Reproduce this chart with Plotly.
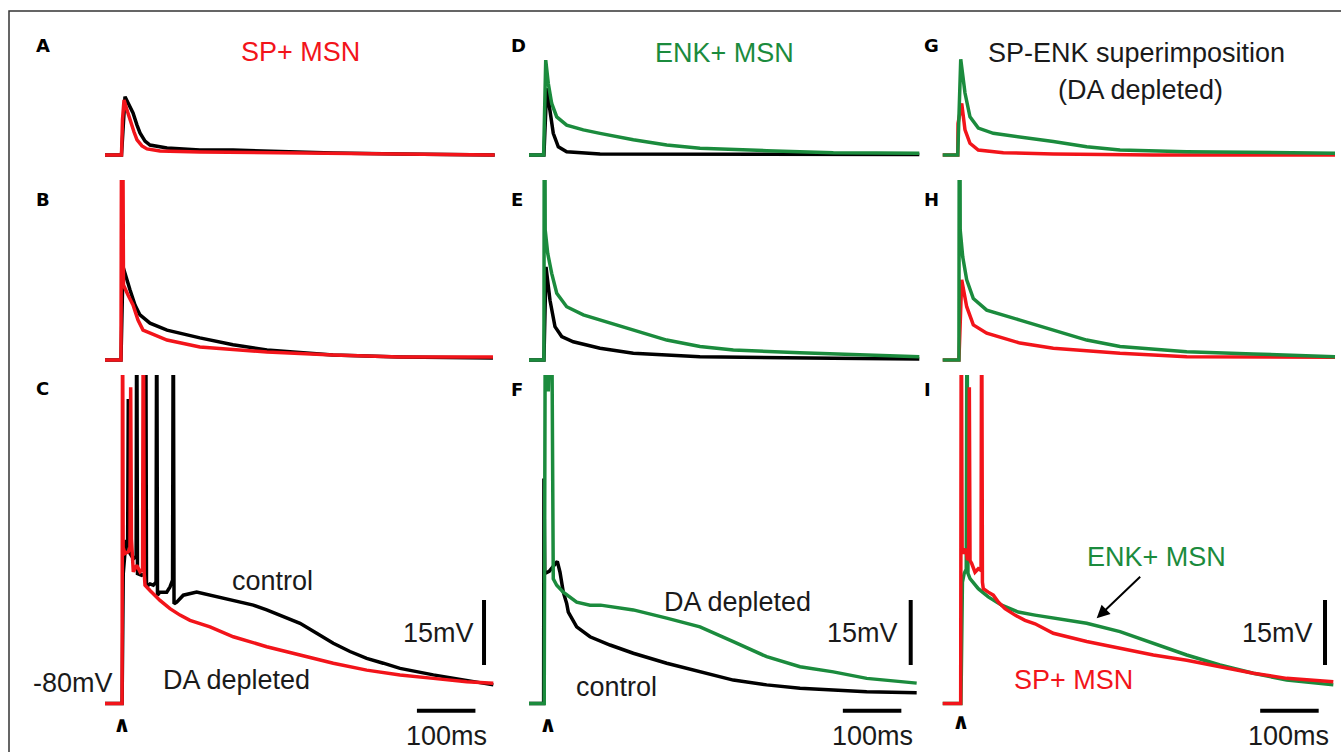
import plotly.graph_objects as go

W, H = 1341, 752

# ---------------- data ----------------
# time in ms from the stimulus, depolarisation in mV above the -80 mV resting level
# Panel A (SP+ MSN, subthreshold small)
A_ctrl_t = [-28.2, 0, 6.0, 11.1, 19.7, 26.5, 31.6, 40.2, 48.7, 77.8, 134, 190.6, 305, 361.5, 476, 638]
A_ctrl_v = [0, 0, 13.45, 12.0, 9.7, 6.9, 5.1, 3.2, 2.3, 1.6, 1.15, 1.15, 0.7, 0.46, 0.23, 0]
A_dep_t = [-28.2, 0, 1.7, 4.3, 9.4, 14.5, 21.4, 26.5, 35, 43.6, 65.8, 134, 305, 638]
A_dep_v = [0, 0, 8.1, 12.7, 10.4, 8.1, 5.3, 3.5, 2.1, 1.4, 0.9, 0.7, 0.46, 0]
# Panel B (SP+ MSN, larger)
B_ctrl_t = [-28.2, -0.9, 2.6, 7.7, 14.5, 23.1, 31.6, 48.7, 77.8, 134, 190.6, 248.7, 361.5, 476, 635]
B_ctrl_v = [0, 0, 21.5, 18.9, 16.2, 12.7, 10.4, 8.5, 6.9, 5.1, 3.5, 2.3, 1.15, 0.7, 0.46]
B_dep_t = [-28.2, -0.9, 0.8, 2.5, 3.4, 11.1, 19.7, 28.2, 36.8, 77.8, 134, 248.7, 361.5, 476, 635]
B_dep_v = [0, 0, 100, 18, 17.3, 15.0, 12.7, 9.2, 6.9, 4.6, 3.0, 1.85, 1.15, 0.7, 0.7]
# Panel C (SP+ MSN, suprathreshold)
C_ctrl_t = [-28.2, 1.0, 3.0, 7.7, 10.5, 11.6, 12.8, 20.2, 25.0, 26.0, 27.3, 34.5, 40.3, 41.4, 42.7,
            48.7, 54.4, 59.0, 60.2, 61.5, 65.8, 77.3, 82.9, 87.3, 88.5, 89.8, 94.4, 105.6, 128.5,
            151.3, 191.1, 225.3, 248.2, 276.6, 305.2, 333.7, 362, 390.6, 419.1, 447.5, 476.1, 533, 590, 635.6]
C_ctrl_v = [0, 0, 30, 37.7, 37, 70.3, 35, 33.4, 34, 100, 30, 29.6, 30, 100, 27,
            27.6, 27.3, 28, 100, 25, 25.7, 25.7, 26.9, 28.5, 100, 23, 23.4, 25.0, 25.7,
            25.0, 23.9, 22.7, 21.6, 20.0, 18.5, 16.2, 13.9, 12.0, 10.4, 9.3, 8.1, 6.6, 5.4, 4.3]
C_dep_t = [-28.2, 1.0, 1.8, 2.8, 6.0, 11.6, 14.5, 15.7, 17.0, 20.2, 26.0, 31.6, 36.0, 37.3, 38.8,
           40.2, 48.7, 57.3, 65.8, 82.9, 100, 117.1, 134.2, 151.3, 191.1, 248.2, 305.2, 362, 419.1,
           476.1, 533, 590, 635.6]
C_dep_v = [0, 0, 100, 36, 34.6, 35.0, 36, 73.0, 38, 30.4, 31.9, 30.4, 31, 100, 30,
           27.3, 26.1, 25.0, 23.8, 21.9, 20.4, 19.2, 18.4, 17.7, 15.4, 13.1, 11.2, 9.3, 7.7,
           6.6, 5.8, 5.0, 4.7]
# Panel D (ENK+ MSN)
D_ctrl_t = [-26.5, -1.0, 3.8, 9.4, 15.0, 23.6, 37.9, 94.9, 265.8, 640.7]
D_ctrl_v = [0, 0, 15.4, 9.6, 5.0, 1.9, 0.76, 0.23, 0.23, 0.1]
D_dep_t = [-26.5, -1.5, 2.1, 6.5, 12.3, 20.9, 37.9, 66.3, 94.9, 151.8, 208.9, 265.8, 379.8, 493.7, 640.7]
D_dep_v = [0, 0, 21.9, 16.5, 11.9, 8.8, 6.9, 5.8, 5.0, 3.5, 2.3, 1.55, 1.0, 0.53, 0.4]
# Panel E
E_ctrl_t = [-26.5, -1.0, 2.6, 9.4, 17.9, 29.4, 49.2, 94.9, 151.8, 265.8, 493.7, 640.7]
E_ctrl_v = [0, 0, 21.5, 13.8, 7.7, 5.4, 4.2, 2.7, 1.55, 0.76, 0.4, 0.23]
E_dep_t = [-26.5, -1.0, 0.0, 1.2, 5.5, 12.3, 20.9, 37.9, 66.3, 94.9, 151.8, 208.9, 265.8, 322.7, 436.8, 550.8, 640.7]
E_dep_v = [0, 0, 100, 30, 24.6, 20.0, 15.4, 12.3, 10.4, 9.2, 6.9, 4.6, 3.1, 2.3, 1.7, 1.15, 0.76]
# Panel F
F_ctrl_t = [-26.5, -1.5, -1.0, 0.5, 8.0, 21.9, 26.5, 32.1, 37.9, 40.7, 55.0, 77.8, 112, 151.8, 208.9,
            265.8, 322.7, 379.8, 436.8, 493.7, 550.8, 636.2]
F_ctrl_v = [0, 0, 51.9, 30, 30.5, 32.8, 30.3, 25.7, 23.1, 21.1, 17.7, 15.4, 13.5, 11.6, 9.3,
            7.3, 5.4, 4.3, 3.5, 3.1, 2.7, 2.5]
F_dep_t = [-26.5, -0.5, 1.5, 6.5, 12.0, 15.0, 20.9, 32.1, 55.0, 77.8, 95.9, 151.8, 208.9, 265.8,
           322.7, 379.8, 436.8, 493.7, 550.8, 636.2]
F_dep_v = [0, 0, 100, 72, 100, 28.8, 27.3, 25.7, 23.4, 22.7, 22.7, 21.6, 19.7, 17.7,
           14.3, 10.8, 8.5, 7.3, 5.8, 4.7]
# Panel G (DA depleted: SP+ vs ENK+)
G_sp_t = [-28.7, -3.0, -2.5, 3.8, 9.4, 17.9, 32.1, 74.9, 160.3, 331.3, 641.9]
G_sp_v = [0, 0, 7.3, 11.9, 5.8, 2.7, 1.15, 0.53, 0.23, 0, 0]
G_enk_t = [-28.7, -3.0, 2.1, 9.4, 17.9, 32.1, 57.8, 103.4, 160.3, 217.4, 274.4, 388.4, 502.2, 641.9]
G_enk_v = [0, 0, 22.1, 14.3, 8.8, 6.2, 5.0, 4.2, 3.1, 1.9, 1.15, 0.76, 0.53, 0.4]
# Panel H
H_sp_t = [-28.7, -1.0, 3.8, 12.3, 23.6, 46.5, 103.4, 160.3, 274.4, 388.4, 641.9]
H_sp_v = [0, 0, 18.5, 12.3, 8.1, 6.2, 3.9, 2.7, 1.55, 0.76, 0.62]
H_enk_t = [-28.7, -1.0, 0.0, 1.2, 5.5, 12.3, 23.6, 46.5, 103.4, 160.3, 217.4, 274.4, 388.4, 502.2, 641.9]
H_enk_v = [0, 0, 100, 30, 23.8, 18.5, 14.2, 11.5, 9.2, 6.9, 4.6, 3.1, 1.9, 1.4, 0.76]
# Panel I
I_sp_t = [-28.7, 2.0, 3.0, 4.5, 6.5, 10.6, 13.7, 15.6, 16.8, 18.0, 20.9, 26.5, 32.1, 35.9, 36.8,
          37.9, 39.2, 40.7, 49.2, 57.8, 66.3, 77.8, 94.9, 112, 129.1, 160.3, 217.4, 274.4, 331.3,
          388.4, 445.3, 502.2, 559.3, 639]
I_sp_v = [0, 0, 100, 36, 34.6, 35.7, 33.1, 33.5, 73.0, 33, 32.3, 30.3, 31.1, 30.8, 31,
          100, 28, 26.5, 25.7, 25.0, 23.4, 21.9, 20.4, 19.2, 18.4, 16.2, 14.3, 12.7, 11.2,
          10.0, 8.5, 7.0, 5.8, 5.0]
I_enk_t = [-28.7, 2.5, 5.0, 8.0, 11.5, 12.8, 14.5, 18.0, 32.1, 49.2, 72.1, 100.5, 129.1, 160.3,
           217.4, 274.4, 331.3, 388.4, 445.3, 502.2, 559.3, 639]
I_enk_v = [0, 0, 28, 30, 31, 100, 30, 28.8, 26.5, 24.6, 22.7, 21.1, 20.4, 19.7,
           18.5, 16.6, 13.9, 11.2, 8.9, 7.0, 5.4, 4.3]

PANEL_LETTERS = ["A", "D", "G", "B", "E", "H", "C", "F", "I"]
COLUMN_TITLES = ["SP+ MSN", "ENK+ MSN", "SP-ENK superimposition", "(DA depleted)"]
SCALE_MV = 15
SCALE_MS = 100
REST_LABEL = "-80mV"

# ---------------- styling / geometry ----------------
RED = "#f2141a"
GREEN = "#1b8b3d"
BLACK = "#000000"
TXT = "#1a1a1a"
FONT = "Liberation Sans, Arial, sans-serif"

PX_PER_MS = 0.585
PX_PER_MV = 4.333
T_RANGE = [-40, 650]
STIM_PX = [121.5, 544.5, 959.5]
ROWS = [(50, 165, 155), (180, 372, 360), (375, 735, 703.5)]  # top px, bottom px, baseline px

panels = [
    (0, 0, [(A_ctrl_t, A_ctrl_v, BLACK), (A_dep_t, A_dep_v, RED)]),
    (0, 1, [(D_ctrl_t, D_ctrl_v, BLACK), (D_dep_t, D_dep_v, GREEN)]),
    (0, 2, [(G_sp_t, G_sp_v, RED), (G_enk_t, G_enk_v, GREEN)]),
    (1, 0, [(B_ctrl_t, B_ctrl_v, BLACK), (B_dep_t, B_dep_v, RED)]),
    (1, 1, [(E_ctrl_t, E_ctrl_v, BLACK), (E_dep_t, E_dep_v, GREEN)]),
    (1, 2, [(H_sp_t, H_sp_v, RED), (H_enk_t, H_enk_v, GREEN)]),
    (2, 0, [(C_ctrl_t, C_ctrl_v, BLACK), (C_dep_t, C_dep_v, RED)]),
    (2, 1, [(F_ctrl_t, F_ctrl_v, BLACK), (F_dep_t, F_dep_v, GREEN)]),
    (2, 2, [(I_enk_t, I_enk_v, GREEN), (I_sp_t, I_sp_v, RED)]),
]

fig = go.Figure()
layout_axes = {}
for row, col, traces in panels:
    k = row * 3 + col + 1
    xa = "x" if k == 1 else f"x{k}"
    ya = "y" if k == 1 else f"y{k}"
    for t, v, c in traces:
        fig.add_trace(go.Scatter(x=t, y=v, mode="lines", line=dict(color=c, width=3.5),
                                 xaxis=xa, yaxis=ya, showlegend=False, hoverinfo="skip"))
    top, bot, base = ROWS[row]
    x0 = STIM_PX[col] + T_RANGE[0] * PX_PER_MS
    x1 = STIM_PX[col] + T_RANGE[1] * PX_PER_MS
    xname = "xaxis" if k == 1 else f"xaxis{k}"
    yname = "yaxis" if k == 1 else f"yaxis{k}"
    layout_axes[xname] = dict(domain=[x0 / W, x1 / W], range=T_RANGE, visible=False,
                              anchor=ya, fixedrange=True)
    layout_axes[yname] = dict(domain=[1 - bot / H, 1 - top / H],
                              range=[(base - bot) / PX_PER_MV, (base - top) / PX_PER_MV],
                              visible=False, anchor=xa, fixedrange=True)

fig.update_layout(**layout_axes)


def px(xp):
    return xp / W


def py(yp):
    return 1 - yp / H


ann = []


def text(s, x, y, size=27, color=TXT, xanchor="center", bold=False, family=FONT):
    ann.append(dict(text=(f"<b>{s}</b>" if bold else s), x=px(x), y=py(y), xref="paper",
                    yref="paper", xanchor=xanchor, yanchor="middle", showarrow=False,
                    font=dict(size=size, color=color, family=family)))


# panel letters
letter_pos = [(34, 45), (509, 45), (922, 45), (34, 199), (509, 199), (922, 199),
              (34, 388), (509, 389), (922, 389)]
for L, (x, y) in zip(PANEL_LETTERS, letter_pos):
    text(L, x, y, size=18, color=BLACK, xanchor="left", bold=True, family="DejaVu Sans")

# column titles
text(COLUMN_TITLES[0], 300, 52, color=RED)
text(COLUMN_TITLES[1], 724.5, 52.5, color=GREEN)
text(COLUMN_TITLES[2], 1136, 53)
text(COLUMN_TITLES[3], 1140, 90)

# in-panel labels
text("control", 272.5, 581)
text("DA depleted", 236, 680)
text(REST_LABEL, 72.5, 683)
text("DA depleted", 737, 602)
text("control", 616, 687)
text("ENK+ MSN", 1156, 557, color=GREEN)
text("SP+ MSN", 1073, 680, color=RED)

# scale bars (row C axes), labels and stimulus markers
bar_axes = ["7", "8", "9"]
vbar_t = [619.7, 626.0, 624.8]
vbar_v0 = 8.9
hbar_t0 = [505, 510, 514]
hbar_v = -1.66
mv_label_right = [476, 900, 1315]
ms_label_center = [446.7, 873, 1288]
caret_pos = [(122, 724), (548, 724), (961, 721)]
shapes = []
for i in range(3):
    shapes.append(dict(type="line", xref="x" + bar_axes[i], yref="y" + bar_axes[i],
                       x0=vbar_t[i], x1=vbar_t[i], y0=vbar_v0, y1=vbar_v0 + SCALE_MV,
                       line=dict(color=BLACK, width=4)))
    shapes.append(dict(type="line", xref="x" + bar_axes[i], yref="y" + bar_axes[i],
                       x0=hbar_t0[i], x1=hbar_t0[i] + SCALE_MS, y0=hbar_v, y1=hbar_v,
                       line=dict(color=BLACK, width=4)))
    text(f"{SCALE_MV}mV", mv_label_right[i], 633, xanchor="right")
    text(f"{SCALE_MS}ms", ms_label_center[i], 736)
    text("∧", caret_pos[i][0], caret_pos[i][1], size=22, color=BLACK, bold=True,
         family="DejaVu Sans")

# arrow in panel I
ann.append(dict(text="", x=234.5, y=19.66, xref="x9", yref="y9", ax=45, ay=-43,
                showarrow=True, arrowhead=2, arrowsize=1.3, arrowwidth=2,
                arrowcolor=BLACK, standoff=0))

# outer frame
shapes.append(dict(type="rect", xref="paper", yref="paper", x0=9 / W, x1=1.02,
                   y0=-0.02, y1=1 - 11 / H, line=dict(color="#333333", width=1.5)))

fig.update_layout(width=W, height=H, margin=dict(l=0, r=0, t=0, b=0), autosize=False,
                  paper_bgcolor="white", plot_bgcolor="rgba(0,0,0,0)",
                  annotations=ann, shapes=shapes, showlegend=False,
                  font=dict(family=FONT))

fig.write_html("out.html", config={"displayModeBar": False},
               post_script="document.body.style.margin='0';document.body.style.overflow='hidden';")
